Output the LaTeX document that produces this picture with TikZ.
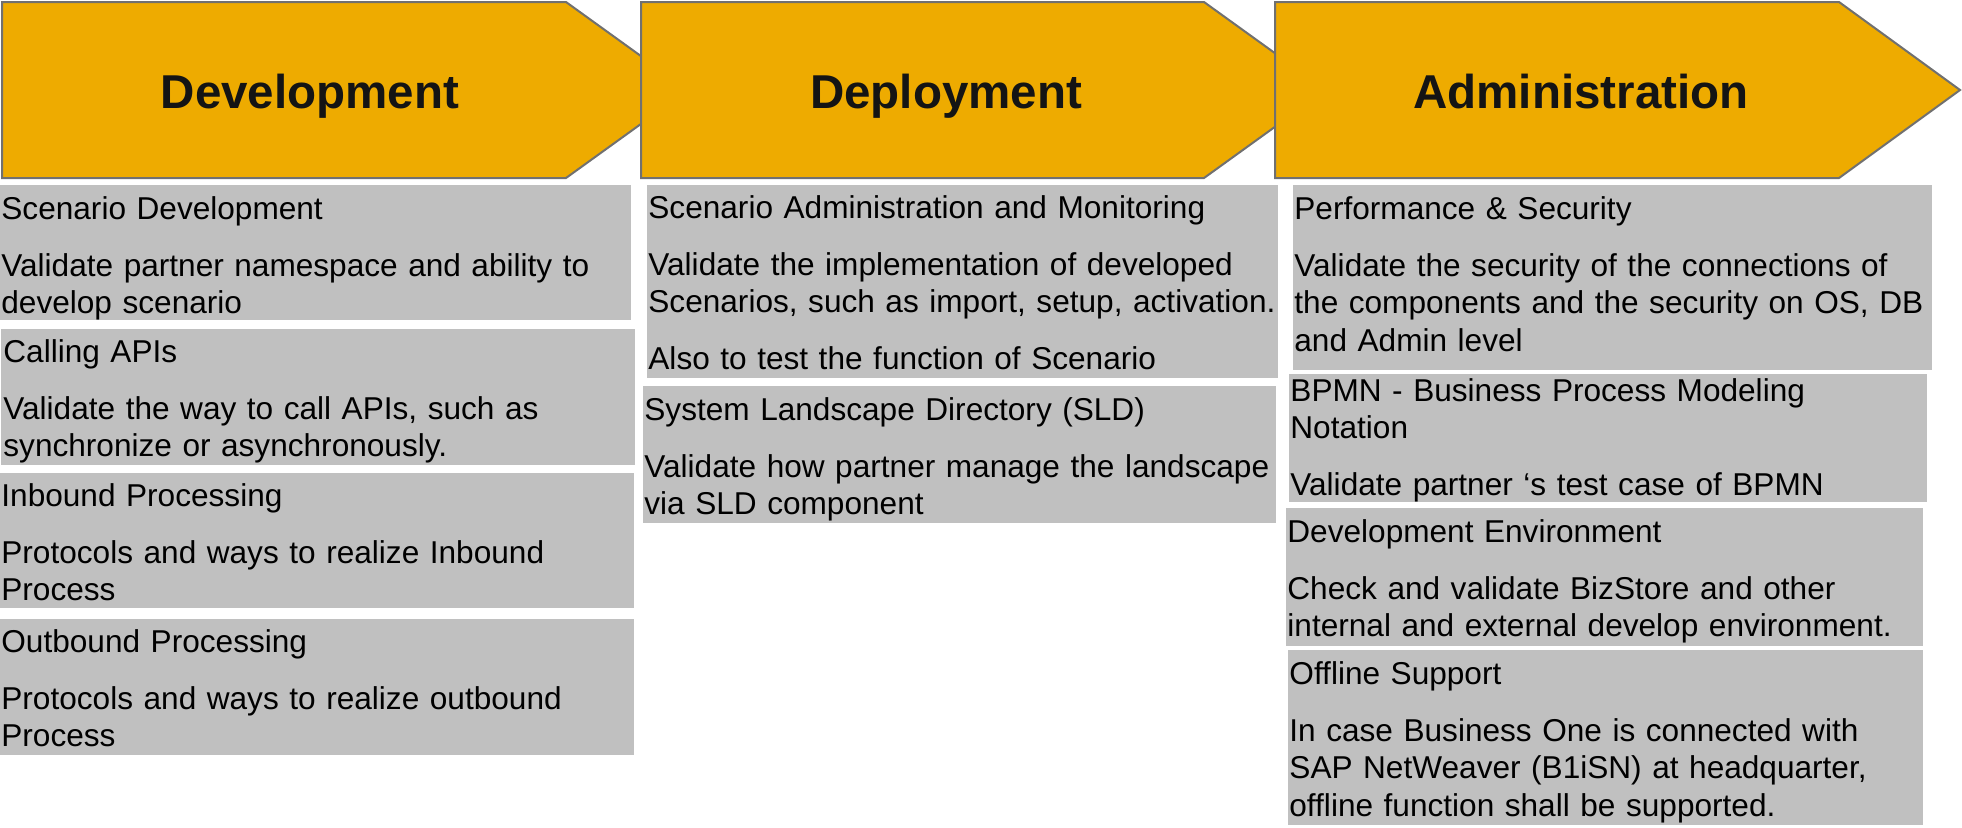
\documentclass[tikz,border=0pt]{standalone}
\usepackage{fontspec}
\setmainfont{Liberation Sans}
\usetikzlibrary{fit}
\definecolor{arrowfill}{RGB}{238,171,0}
\definecolor{arrowline}{RGB}{112,112,112}
\definecolor{boxfill}{RGB}{192,192,192}
\definecolor{txt}{RGB}{20,20,20}
\begin{document}
\begin{tikzpicture}[x=0.5pt,y=-0.5pt,
  phase/.style={fill=arrowfill,draw=arrowline,line width=1pt,line join=miter},
  phaselabel/.style={anchor=base,inner sep=0pt,font=\fontsize{23.75}{28}\selectfont\bfseries,text=txt},
  gbox/.style={fill=boxfill,draw=none,inner sep=0pt},
  btext/.style={anchor=base west,inner sep=0pt,align=left,text width=330pt,font=\fontsize{15.8}{18.75}\selectfont,text=black},
]
\useasboundingbox (0,0) rectangle (1962,827);

% phase arrows
\draw[phase] (2,2) -- (566,2) -- (688,90) -- (566,178) -- (2,178) -- cycle;
\node[phaselabel] (p1) at (310,108) {Development};
\draw[phase] (641,2) -- (1204,2) -- (1326,90) -- (1204,178) -- (641,178) -- cycle;
\node[phaselabel] (p2) at (946,108) {Deployment};
\draw[phase] (1275,2) -- (1839,2) -- (1960,90) -- (1839,178) -- (1275,178) -- cycle;
\node[phaselabel] (p3) at (1581,108) {Administration};

% column 1
\node[gbox,fit={(0,185)(631,320)}] (b1) {};
\node[btext] (t1) at (1,219) {Scenario Development\\[9.75pt]Validate partner namespace and ability to\\develop scenario};
\node[gbox,fit={(1,329)(635,465)}] (b2) {};
\node[btext] (t2) at (3,362) {Calling APIs\\[9.75pt]Validate the way to call APIs, such as\\synchronize or asynchronously.};
\node[gbox,fit={(0,473)(634,608)}] (b3) {};
\node[btext] (t3) at (1,506) {Inbound Processing\\[9.75pt]Protocols and ways to realize Inbound\\Process};
\node[gbox,fit={(0,619)(634,755)}] (b4) {};
\node[btext] (t4) at (1,652) {Outbound Processing\\[9.75pt]Protocols and ways to realize outbound\\Process};

% column 2
\node[gbox,fit={(647,185)(1278,378)}] (b5) {};
\node[btext] (t5) at (648,218) {Scenario Administration and Monitoring\\[9.75pt]Validate the implementation of developed\\Scenarios, such as import, setup, activation.\\[9.75pt]Also to test the function of Scenario};
\node[gbox,fit={(643,386)(1276,523)}] (b6) {};
\node[btext] (t6) at (644,420) {System Landscape Directory (SLD)\\[9.75pt]Validate how partner manage the landscape\\via SLD component};

% column 3
\node[gbox,fit={(1293,185)(1932,370)}] (b7) {};
\node[btext] (t7) at (1294,219) {Performance \& Security\\[9.75pt]Validate the security of the connections of\\the components and the security on OS, DB\\and Admin level};
\node[gbox,fit={(1289,374)(1927,502)}] (b8) {};
\node[btext] (t8) at (1290,401) {BPMN - Business Process Modeling\\Notation\\[9.75pt]Validate partner ‘s test case of BPMN};
\node[gbox,fit={(1286,508)(1923,646)}] (b9) {};
\node[btext] (t9) at (1287,542) {Development Environment\\[9.75pt]Check and validate BizStore and other\\internal and external develop environment.};
\node[gbox,fit={(1288,650)(1923,825)}] (b10) {};
\node[btext] (t10) at (1289,684) {Offline Support\\[9.75pt]In case Business One is connected with\\SAP NetWeaver (B1iSN) at headquarter,\\offline function shall be supported.};
\end{tikzpicture}
\end{document}
